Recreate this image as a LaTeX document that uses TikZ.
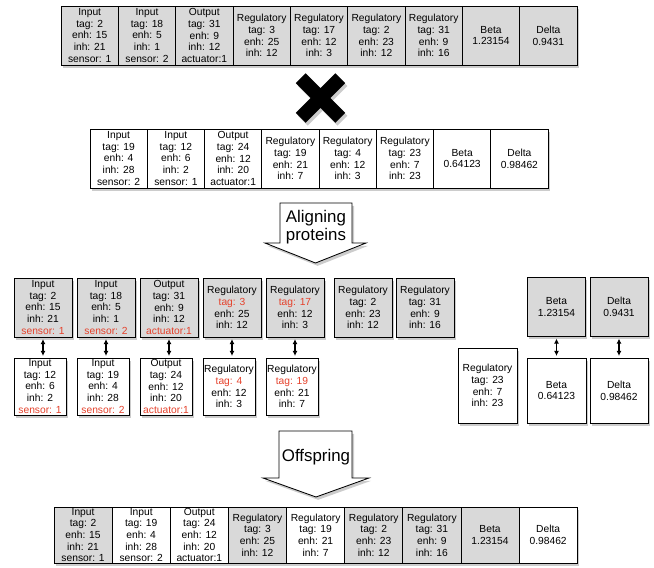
\documentclass[tikz,border=0pt]{standalone}
\usepackage{fontspec}
\setmainfont{Liberation Sans}
\usepackage{tikz}
\usetikzlibrary{arrows.meta, positioning, shadows}
\definecolor{cellgray}{HTML}{D9D9D9}
\definecolor{markred}{HTML}{E5412B}
\newcommand{\redtxt}[1]{\textcolor{markred}{#1}}

\tikzset{
  cell/.style={draw, line width=0.6pt, fill=white, align=center, inner sep=0pt, outer sep=0pt,
    font=\fontsize{7.3}{8.3}\selectfont,
    drop shadow={shadow xshift=1.2pt, shadow yshift=-1.8pt, opacity=.4}},
  graycell/.style={fill=cellgray},
  toprow/.style={cell, minimum width=1.433cm, minimum height=1.475cm},
  secrow/.style={cell, minimum width=1.431cm, minimum height=1.475cm},
  botrow/.style={cell, minimum width=1.453cm, minimum height=1.4cm},
  upbox/.style={cell, graycell, minimum width=1.45cm, minimum height=1.475cm},
  lowbox/.style={cell, minimum width=1.3cm, minimum height=1.425cm},
  link/.style={<->, >={Latex[length=3.5pt,width=3.5pt]}, line width=0.9pt, shorten <=1.5pt, shorten >=1.5pt},
  bigarrow/.style={draw, line width=0.6pt, fill=white, drop shadow={shadow xshift=1.5pt, shadow yshift=-2pt, opacity=.4}},
  bigtxt/.style={align=center, font=\fontsize{12}{13}\selectfont}
}

\begin{document}
\begin{tikzpicture}[x=0.025cm, y=-0.025cm]
\useasboundingbox (0,0) rectangle (654,568);

% first parent
\node[toprow, graycell, anchor=north west] (p1) at (61,6) {Input\\tag: 2\\enh: 15\\inh: 21\\sensor: 1};
\node[toprow, graycell, right=0pt of p1] (p2) {Input\\tag: 18\\enh: 5\\inh: 1\\sensor: 2};
\node[toprow, graycell, right=0pt of p2] (p3) {Output\\tag: 31\\enh: 9\\inh: 12\\actuator:1};
\node[toprow, graycell, right=0pt of p3] (p4) {Regulatory\\tag: 3\\enh: 25\\inh: 12};
\node[toprow, graycell, right=0pt of p4] (p5) {Regulatory\\tag: 17\\enh: 12\\inh: 3};
\node[toprow, graycell, right=0pt of p5] (p6) {Regulatory\\tag: 2\\enh: 23\\inh: 12};
\node[toprow, graycell, right=0pt of p6] (p7) {Regulatory\\tag: 31\\enh: 9\\inh: 16};
\node[toprow, graycell, right=0pt of p7] (p8) {Beta\\1.23154};
\node[toprow, graycell, right=0pt of p8] (p9) {Delta\\0.9431};

% cross
\fill[black, drop shadow={shadow xshift=1.5pt, shadow yshift=-2pt, opacity=.4}, shift={(320.5,98)}, rotate=45]
  (-28,-7) -- (-7,-7) -- (-7,-28) -- (7,-28) -- (7,-7) -- (28,-7) -- (28,7) -- (7,7) -- (7,28) -- (-7,28) -- (-7,7) -- (-28,7) -- cycle;

% second parent
\node[secrow, anchor=north west] (q1) at (90,129) {Input\\tag: 19\\enh: 4\\inh: 28\\sensor: 2};
\node[secrow, right=0pt of q1] (q2) {Input\\tag: 12\\enh: 6\\inh: 2\\sensor: 1};
\node[secrow, right=0pt of q2] (q3) {Output\\tag: 24\\enh: 12\\inh: 20\\actuator:1};
\node[secrow, right=0pt of q3] (q4) {Regulatory\\tag: 19\\enh: 21\\inh: 7};
\node[secrow, right=0pt of q4] (q5) {Regulatory\\tag: 4\\enh: 12\\inh: 3};
\node[secrow, right=0pt of q5] (q6) {Regulatory\\tag: 23\\enh: 7\\inh: 23};
\node[secrow, right=0pt of q6] (q7) {Beta\\0.64123};
\node[secrow, right=0pt of q7] (q8) {Delta\\0.98462};

% aligning arrow
\draw[bigarrow] (280,203) -- (352,203) -- (352,243) -- (366,243) -- (315.5,263) -- (265,243) -- (280,243) -- cycle;
\node[bigtxt] (aligning) at (316,227) {Aligning\\proteins};

% aligned proteins
\node[upbox] (u1) at (43,307.5) {Input\\tag: 2\\enh: 15\\inh: 21\\\redtxt{sensor: 1}};
\node[upbox] (u2) at (106,307.5) {Input\\tag: 18\\enh: 5\\inh: 1\\\redtxt{sensor: 2}};
\node[upbox] (u3) at (169,307.5) {Output\\tag: 31\\enh: 9\\inh: 12\\\redtxt{actuator:1}};
\node[upbox] (u4) at (232,307.5) {Regulatory\\\redtxt{tag: 3}\\enh: 25\\inh: 12};
\node[upbox] (u5) at (295,307.5) {Regulatory\\\redtxt{tag: 17}\\enh: 12\\inh: 3};
\node[upbox] (u6) at (363,307.5) {Regulatory\\tag: 2\\enh: 23\\inh: 12};
\node[upbox] (u7) at (425,307.5) {Regulatory\\tag: 31\\enh: 9\\inh: 16};
\node[upbox] (u8) at (556.5,307) {Beta\\1.23154};
\node[upbox] (u9) at (619,307) {Delta\\0.9431};

\node[lowbox] (l1) at (40,386.5) {Input\\tag: 12\\enh: 6\\inh: 2\\\redtxt{sensor: 1}};
\node[lowbox] (l2) at (103,386.5) {Input\\tag: 19\\enh: 4\\inh: 28\\\redtxt{sensor: 2}};
\node[lowbox] (l3) at (166,386.5) {Output\\tag: 24\\enh: 12\\inh: 20\\\redtxt{actuator:1}};
\node[lowbox] (l4) at (229,386.5) {Regulatory\\\redtxt{tag: 4}\\enh: 12\\inh: 3};
\node[lowbox] (l5) at (292,386.5) {Regulatory\\\redtxt{tag: 19}\\enh: 21\\inh: 7};
\node[cell, minimum width=1.475cm, minimum height=1.875cm] (l6) at (487.5,385.5) {Regulatory\\tag: 23\\enh: 7\\inh: 23};
\node[cell, minimum width=1.475cm, minimum height=1.625cm] (l7) at (556.5,390.5) {Beta\\0.64123};
\node[cell, minimum width=1.45cm, minimum height=1.625cm] (l8) at (619,390.5) {Delta\\0.98462};

\foreach \i in {1,2,3,4,5} {
  \draw[link] (u\i.south) -- (u\i.south |- l\i.north);
}
\draw[link] (u8.south) -- (l7.north);
\draw[link] (u9.south) -- (l8.north);

% offspring arrow
\draw[bigarrow] (279,431) -- (352,431) -- (352,478) -- (369,478) -- (316,497) -- (263,478) -- (279,478) -- cycle;
\node[bigtxt] (offspring) at (316,457) {Offspring};

% child
\node[botrow, graycell, anchor=north west] (c1) at (54,507) {Input\\tag: 2\\enh: 15\\inh: 21\\sensor: 1};
\node[botrow, right=0pt of c1] (c2) {Input\\tag: 19\\enh: 4\\inh: 28\\sensor: 2};
\node[botrow, right=0pt of c2] (c3) {Output\\tag: 24\\enh: 12\\inh: 20\\actuator:1};
\node[botrow, graycell, right=0pt of c3] (c4) {Regulatory\\tag: 3\\enh: 25\\inh: 12};
\node[botrow, right=0pt of c4] (c5) {Regulatory\\tag: 19\\enh: 21\\inh: 7};
\node[botrow, graycell, right=0pt of c5] (c6) {Regulatory\\tag: 2\\enh: 23\\inh: 12};
\node[botrow, graycell, right=0pt of c6] (c7) {Regulatory\\tag: 31\\enh: 9\\inh: 16};
\node[botrow, graycell, right=0pt of c7] (c8) {Beta\\1.23154};
\node[botrow, right=0pt of c8] (c9) {Delta\\0.98462};
\end{tikzpicture}
\end{document}
